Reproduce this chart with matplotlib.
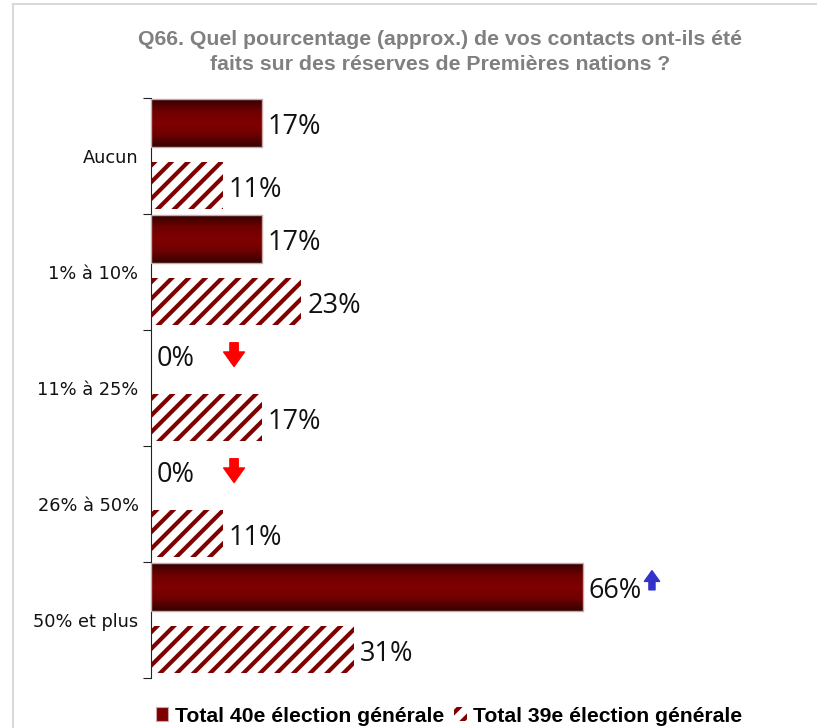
import numpy as np
import matplotlib
matplotlib.use('Agg')
import matplotlib.pyplot as plt
from matplotlib.colors import LinearSegmentedColormap
from matplotlib.patches import Rectangle
from matplotlib.lines import Line2D

categories = ['Aucun', '1% à 10%', '11% à 25%', '26% à 50%', '50% et plus']
total_40 = [17, 17, 0, 0, 66]
total_39 = [11, 23, 17, 11, 31]
# arrow next to the 40e value: -1 down, 1 up, 0 none
change_40 = [0, 0, -1, -1, 1]

series_names = ['Total 40e élection générale', 'Total 39e élection générale']
title = "Q66. Quel pourcentage (approx.) de vos contacts ont-ils été\nfaits sur des réserves de Premières nations ?"

dark_red = '#800000'
plt.rcParams['hatch.linewidth'] = 3.0

W, H = 817, 728
fig = plt.figure(figsize=(W / 100, H / 100), dpi=100)
ax = fig.add_axes([151 / W, 1 - 678 / H, 654 / W, 580 / H])

grad_cmap = LinearSegmentedColormap.from_list('bar', ['#360000', '#6e0000', '#800000', '#6e0000', '#360000'])
grad = np.linspace(0, 1, 64).reshape(-1, 1)

bar_h = 0.41
lab_dy = 0.035  # labels sit a touch below the bar centre
for i, (v40, v39) in enumerate(zip(total_40, total_39)):
    y40 = i + 0.215
    y39 = i + 0.755
    if v40 > 0:
        ax.imshow(grad, cmap=grad_cmap, aspect='auto', interpolation='bilinear',
                  extent=(0, v40, y40 + bar_h / 2, y40 - bar_h / 2), zorder=2)
        ax.add_patch(Rectangle((0, y40 - bar_h / 2), v40, bar_h, fill=False,
                               edgecolor='#c8a8a8', linewidth=1, zorder=3))
    ax.text(v40 + 0.9, y40 + lab_dy, f"{v40}%", va='center', ha='left', fontsize=19.5,
            family='Open Sans', color='#111111')
    if change_40[i] < 0:
        ax.annotate('', xy=(v40 + 12.7, y40 + 0.1), xytext=(v40 + 12.7, y40 - 0.105),
                    arrowprops=dict(arrowstyle='simple,head_length=0.7,head_width=1.0,tail_width=0.4',
                                    color='red', shrinkA=0, shrinkB=0, mutation_scale=15))
    elif change_40[i] > 0:
        ax.annotate('', xy=(v40 + 10.6, y40 - 0.14), xytext=(v40 + 10.6, y40 + 0.025),
                    arrowprops=dict(arrowstyle='simple,head_length=0.7,head_width=1.0,tail_width=0.4',
                                    color='#3333cc', shrinkA=0, shrinkB=0, mutation_scale=11))

    ax.barh(y39, v39, height=bar_h, color='white', edgecolor=dark_red, linewidth=0,
            hatch='//', zorder=2)
    ax.text(v39 + 0.9, y39 + lab_dy, f"{v39}%", va='center', ha='left', fontsize=19.5,
            family='Open Sans', color='#111111')

ax.set_xlim(0, 100)
ax.set_ylim(5, 0)
for s in ['top', 'right', 'bottom']:
    ax.spines[s].set_visible(False)
ax.spines['left'].set_color('#222222')
ax.set_xticks([])
ax.set_yticks(np.arange(0, 6))
ax.set_yticklabels([])
ax.tick_params(axis='y', which='major', length=6, direction='out', color='#222222')
ax.set_yticks(np.arange(len(categories)) + 0.5, minor=True)
ax.set_yticklabels(categories, minor=True, fontsize=12.8, family='DejaVu Sans', color='#111111')
ax.tick_params(axis='y', which='minor', length=0, pad=9)

fig.text(440 / W, 1 - 52 / H, title, ha='center', va='center', fontsize=15.3,
         fontweight='bold', color='#808080', family='Liberation Sans', linespacing=1.4)

# legend
h40 = Rectangle((0, 0), 1, 1, facecolor=dark_red, edgecolor='#c8a8a8', linewidth=0.8)
h39 = Rectangle((0, 0), 1, 1, facecolor='white', edgecolor=dark_red, linewidth=0, hatch='//')
fig.legend([h40, h39], series_names, loc='center', bbox_to_anchor=(449 / W, 1 - 716 / H),
           ncol=2, frameon=False, handlelength=0.6, handleheight=0.6, handletextpad=0.3,
           columnspacing=0.5, prop={'family': 'Liberation Sans', 'weight': 'bold', 'size': 15.2})

# light frame around the chart
frame_col = '#d9d9d9'
fig.add_artist(Line2D([13 / W, 13 / W], [0, 1 - 4 / H], transform=fig.transFigure, color=frame_col, lw=1.5))
fig.add_artist(Line2D([13 / W, 1], [1 - 4 / H, 1 - 4 / H], transform=fig.transFigure, color=frame_col, lw=1.5))

fig.savefig('out.png', dpi=100)
